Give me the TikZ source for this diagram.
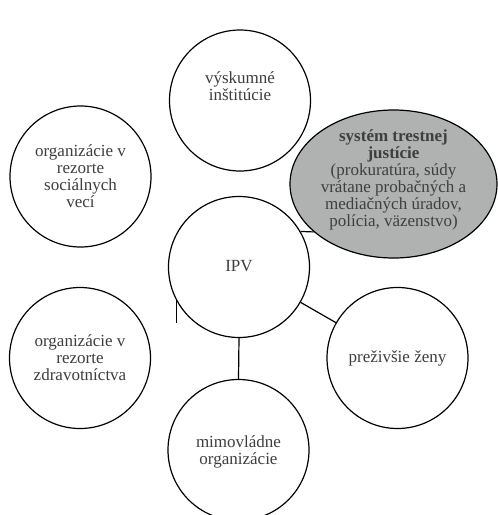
\documentclass[tikz,border=0pt]{standalone}
\usepackage{fontspec}
\setmainfont{Liberation Serif}
\usetikzlibrary{shapes.geometric}
\definecolor{txtc}{RGB}{62,62,62}
\definecolor{grayfill}{RGB}{176,178,178}
\begin{document}
\begin{tikzpicture}[x=1pt,y=-1pt,
  circ/.style={circle,draw=black,line width=1.2pt,fill=white,minimum size=141pt,inner sep=0pt},
  txt/.style={align=center,text=txtc,font=\fontsize{17}{17}\selectfont},
  conn/.style={draw=black,line width=1.2pt}]
\useasboundingbox (0,0) rectangle (498,515);
% nodes
\node[circ] (vys) at (240,100.5) {};
\node[txt] (vyst) at (240,86) {výskumné\\inštitúcie};
\node[circ] (soc) at (80.5,176.5) {};
\node[txt] (soct) at (80.5,176) {organizácie v\\rezorte\\sociálnych\\vecí};
\node[ellipse,draw=black,line width=1.2pt,fill=grayfill,minimum width=207pt,minimum height=148pt,inner sep=0pt] (sys) at (393.5,184) {};
\node[txt] (syst) at (393.5,180) {\textbf{systém trestnej}\\\textbf{justície}\\(prokuratúra, súdy\\vrátane probačných a\\mediačných úradov,\\polícia, väzenstvo)};
\node[circ] (ipv) at (239,267) {};
\node[txt] (ipvt) at (239,266) {IPV};
\node[circ] (zdr) at (80,358) {};
\node[txt] (zdrt) at (80,358) {organizácie v\\rezorte\\zdravotníctva};
\node[circ] (prez) at (397.5,358) {};
\node[txt] (prezt) at (397.5,358) {preživšie ženy};
\node[circ] (mim) at (238.5,450) {};
\node[txt] (mimt) at (238.5,452) {mimovládne\\organizácie};
% connectors
\coordinate (stubend) at (177.5,323);
\draw[conn] (ipv.30) -- (sys.211);
\draw[conn] (ipv.208) -- (ipv.208 |- stubend);
\draw[conn] (ipv) -- (prez);
\draw[conn] (ipv.south) -- (mim.north);
\end{tikzpicture}
\end{document}
